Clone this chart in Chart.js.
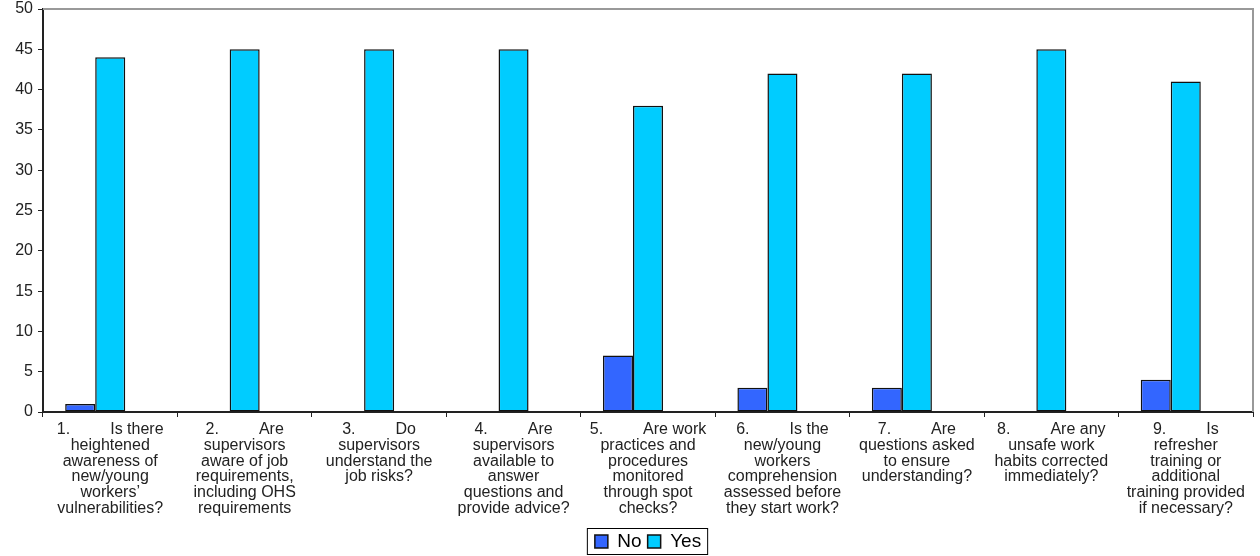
<!DOCTYPE html>
<html lang="en">
<head>
    <meta charset="UTF-8">
    <title>Survey chart</title>
    <script src="https://cdn.jsdelivr.net/npm/chart.js"></script>
    <style>
        * { margin: 0; padding: 0; box-sizing: border-box; }
        body { background: #ffffff; width: 1260px; height: 556px; overflow: hidden; }
        .chart-box { position: relative; width: 1260px; height: 556px; }
    </style>
</head>
<body>
    <div class="chart-box">
        <canvas id="surveyChart"></canvas>
    </div>

    <script>
        const gap = '\u00a0'.repeat(9);

        const questions = [
            ['1.' + gap + 'Is there', 'heightened', 'awareness of', 'new/young', 'workers\u2019', 'vulnerabilities?'],
            ['2.' + gap + 'Are', 'supervisors', 'aware of job', 'requirements,', 'including OHS', 'requirements'],
            ['3.' + gap + 'Do', 'supervisors', 'understand the', 'job risks?'],
            ['4.' + gap + 'Are', 'supervisors', 'available to', 'answer', 'questions and', 'provide advice?'],
            ['5.' + gap + 'Are work', 'practices and', 'procedures', 'monitored', 'through spot', 'checks?'],
            ['6.' + gap + 'Is the', 'new/young', 'workers', 'comprehension', 'assessed before', 'they start work?'],
            ['7.' + gap + 'Are', 'questions asked', 'to ensure', 'understanding?'],
            ['8.' + gap + 'Are any', 'unsafe work', 'habits corrected', 'immediately?'],
            ['9.' + gap + 'Is', 'refresher', 'training or', 'additional', 'training provided', 'if necessary?']
        ];
        const noValues = [1, 0, 0, 0, 7, 3, 3, 0, 4];
        const yesValues = [44, 45, 45, 45, 38, 42, 42, 45, 41];
        // empty third slot, the bars sit left of centre in the original
        const blankValues = [null, null, null, null, null, null, null, null, null];
        const yTicks = [0, 5, 10, 15, 20, 25, 30, 35, 40, 45, 50];

        // grey frame on top/right of the plot + box round the legend
        const framePlugin = {
            id: 'frame',
            afterDraw(chart) {
                const c = chart.ctx;
                const a = chart.chartArea;
                c.save();
                c.strokeStyle = '#999999';
                c.lineWidth = 2;
                c.beginPath();
                c.moveTo(a.left, a.top);
                c.lineTo(a.right, a.top);
                c.lineTo(a.right, a.bottom);
                c.stroke();

                const boxes = chart.legend.legendHitBoxes;
                if (boxes && boxes.length) {
                    const first = boxes[0];
                    const last = boxes[boxes.length - 1];
                    c.strokeStyle = '#000000';
                    c.lineWidth = 1;
                    c.strokeRect(first.left - 7.5, first.top - 3.5, last.left + last.width - first.left + 14, first.height + 7);
                }
                c.restore();
            }
        };

        const ctx = document.getElementById('surveyChart').getContext('2d');
        const surveyChart = new Chart(ctx, {
            type: 'bar',
            data: {
                labels: questions,
                datasets: [{
                    label: 'No',
                    data: noValues,
                    backgroundColor: '#3366ff',
                    borderColor: '#111111',
                    borderWidth: (c) => c.raw ? 1.5 : 0,
                    borderSkipped: false
                }, {
                    label: 'Yes',
                    data: yesValues,
                    backgroundColor: '#00ccff',
                    borderColor: '#111111',
                    borderWidth: 1.5,
                    borderSkipped: false
                }, {
                    label: '',
                    data: blankValues
                }]
            },
            options: {
                responsive: true,
                maintainAspectRatio: false,
                animation: false,
                layout: { padding: { left: 0, right: 7, top: 0, bottom: -5 } },
                datasets: { bar: { categoryPercentage: 0.67, barPercentage: 1 } },
                plugins: {
                    tooltip: { enabled: false },
                    legend: {
                        position: 'bottom',
                        fullSize: false,
                        labels: {
                            filter: (item) => item.text !== '',
                            color: '#000000',
                            font: { family: 'Liberation Sans, Arial, sans-serif', size: 19 },
                            boxWidth: 13,
                            boxHeight: 13,
                            padding: 6
                        }
                    }
                },
                scales: {
                    x: {
                        offset: true,
                        grid: {
                            offset: true,
                            drawOnChartArea: false,
                            color: '#222222',
                            tickLength: 5
                        },
                        border: { color: '#222222', width: 2 },
                        ticks: {
                            autoSkip: false,
                            maxRotation: 0,
                            color: '#222222',
                            padding: 5,
                            font: { family: 'Liberation Sans, Arial, sans-serif', size: 16, lineHeight: 0.98 }
                        },
                        afterFit: (scale) => { scale.height = 114; }
                    },
                    y: {
                        min: 0,
                        max: 50,
                        afterBuildTicks: (scale) => { scale.ticks = yTicks.map(v => ({ value: v })); },
                        grid: {
                            drawOnChartArea: false,
                            color: '#222222',
                            tickLength: 5
                        },
                        border: { color: '#222222', width: 2 },
                        ticks: {
                            color: '#222222',
                            padding: 5,
                            font: { family: 'Liberation Sans, Arial, sans-serif', size: 16 }
                        },
                        afterFit: (scale) => {
                            scale.width = 43;
                            scale.paddingTop = 9;
                        }
                    }
                }
            },
            plugins: [framePlugin]
        });
    </script>
</body>
</html>
